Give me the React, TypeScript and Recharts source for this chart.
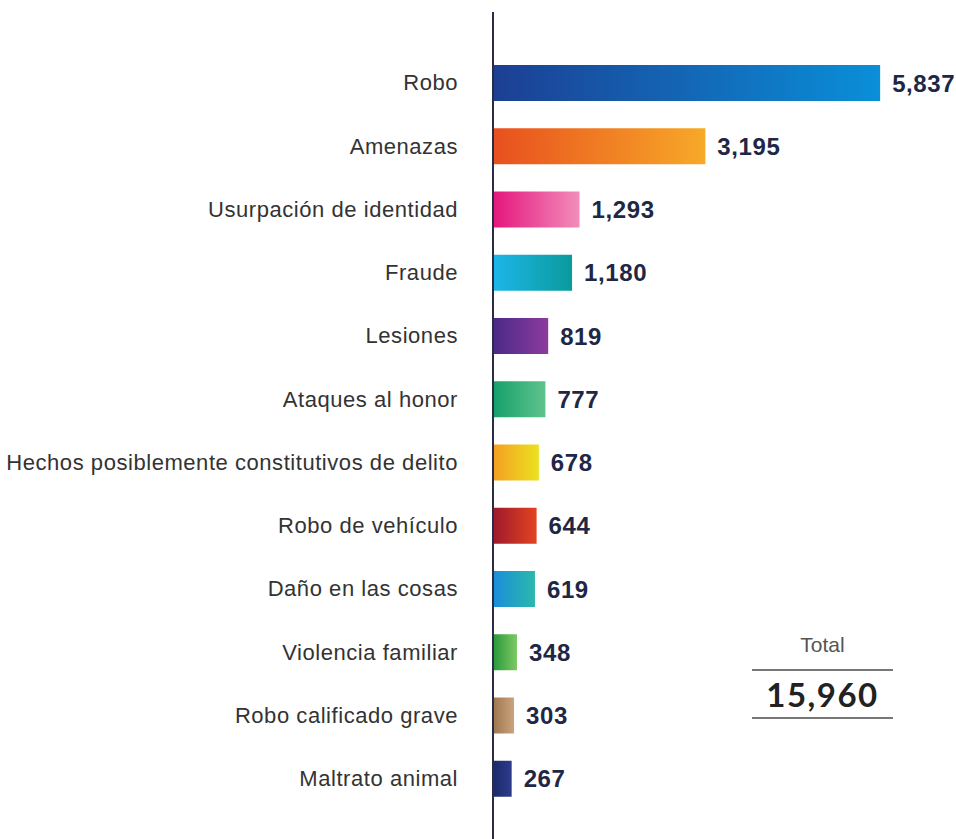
import { BarChart, Bar, XAxis, YAxis, Cell, LabelList } from "recharts";

const categories = [
  "Robo",
  "Amenazas",
  "Usurpación de identidad",
  "Fraude",
  "Lesiones",
  "Ataques al honor",
  "Hechos posiblemente constitutivos de delito",
  "Robo de vehículo",
  "Daño en las cosas",
  "Violencia familiar",
  "Robo calificado grave",
  "Maltrato animal",
];

const values = [5837, 3195, 1293, 1180, 819, 777, 678, 644, 619, 348, 303, 267];

const totalLabel = "Total";
const totalValue = 15960;

// gradient stops per bar, left -> right
const GRADIENTS: [string, string][] = [
  ["#1c3f93", "#0a8fd8"],
  ["#e8501e", "#f7a928"],
  ["#e5177d", "#f28dbb"],
  ["#1cb6e8", "#0b9a9c"],
  ["#4b2a88", "#8c3b9c"],
  ["#17a06c", "#5fc38c"],
  ["#f4a023", "#ebe21f"],
  ["#9f1a2c", "#e2441f"],
  ["#1b8ed9", "#2cb8ad"],
  ["#2a9a3c", "#7fc964"],
  ["#a07850", "#caa47e"],
  ["#1b2a6b", "#2c3c8c"],
];

const data = categories.map((name, i) => ({ name, value: values[i] }));

const fmt = (v: number) => v.toLocaleString("en-US");

export default function App() {
  return (
    <div
      style={{
        position: "absolute",
        left: 0,
        top: 0,
        width: 956,
        height: 839,
        background: "#fff",
        overflow: "hidden",
        fontFamily: "'Liberation Sans', Arial, sans-serif",
      }}
    >
      <BarChart
        width={956}
        height={839}
        data={data}
        layout="vertical"
        margin={{ top: 51, right: 32, bottom: 29, left: 0 }}
      >
        <defs>
          {GRADIENTS.map(([a, b], i) => (
            <linearGradient key={i} id={`g${i}`} x1="0" y1="0" x2="1" y2="0">
              <stop offset="0%" stopColor={a} />
              <stop offset="100%" stopColor={b} />
            </linearGradient>
          ))}
        </defs>
        <XAxis type="number" domain={[0, 6500]} hide />
        <YAxis
          type="category"
          dataKey="name"
          width={494}
          axisLine={false}
          tickLine={false}
          tickSize={0}
          tickMargin={36}
          interval={0}
          tick={{ fill: "#333", fontSize: 22, letterSpacing: 0.55 }}
        />
        <Bar dataKey="value" barSize={36} isAnimationActive={false}>
          {data.map((d, i) => (
            <Cell key={d.name} fill={`url(#g${i})`} />
          ))}
          <LabelList
            dataKey="value"
            position="right"
            offset={12}
            formatter={(v: any) => fmt(Number(v))}
            style={{
              fill: "#1f2746",
              fontSize: 24,
              fontWeight: 700,
              letterSpacing: 0.6,
            }}
          />
        </Bar>
      </BarChart>

      {/* vertical axis line */}
      <div
        style={{
          position: "absolute",
          left: 492,
          top: 12,
          width: 2,
          height: 827,
          background: "#2a2b45",
        }}
      />

      {/* total box */}
      <div
        style={{
          position: "absolute",
          left: 752,
          top: 631,
          width: 141,
          textAlign: "center",
        }}
      >
        <div style={{ fontSize: 21, color: "#555", lineHeight: "28px" }}>
          {totalLabel}
        </div>
        <div style={{ height: 2, background: "#777", marginTop: 10 }} />
        <div
          style={{
            fontSize: 33,
            fontWeight: 700,
            color: "#222",
            lineHeight: "46px",
            fontFamily: "Lato, 'Open Sans', sans-serif",
            letterSpacing: 1.5,
          }}
        >
          {fmt(totalValue)}
        </div>
        <div style={{ height: 2, background: "#777" }} />
      </div>
    </div>
  );
}
